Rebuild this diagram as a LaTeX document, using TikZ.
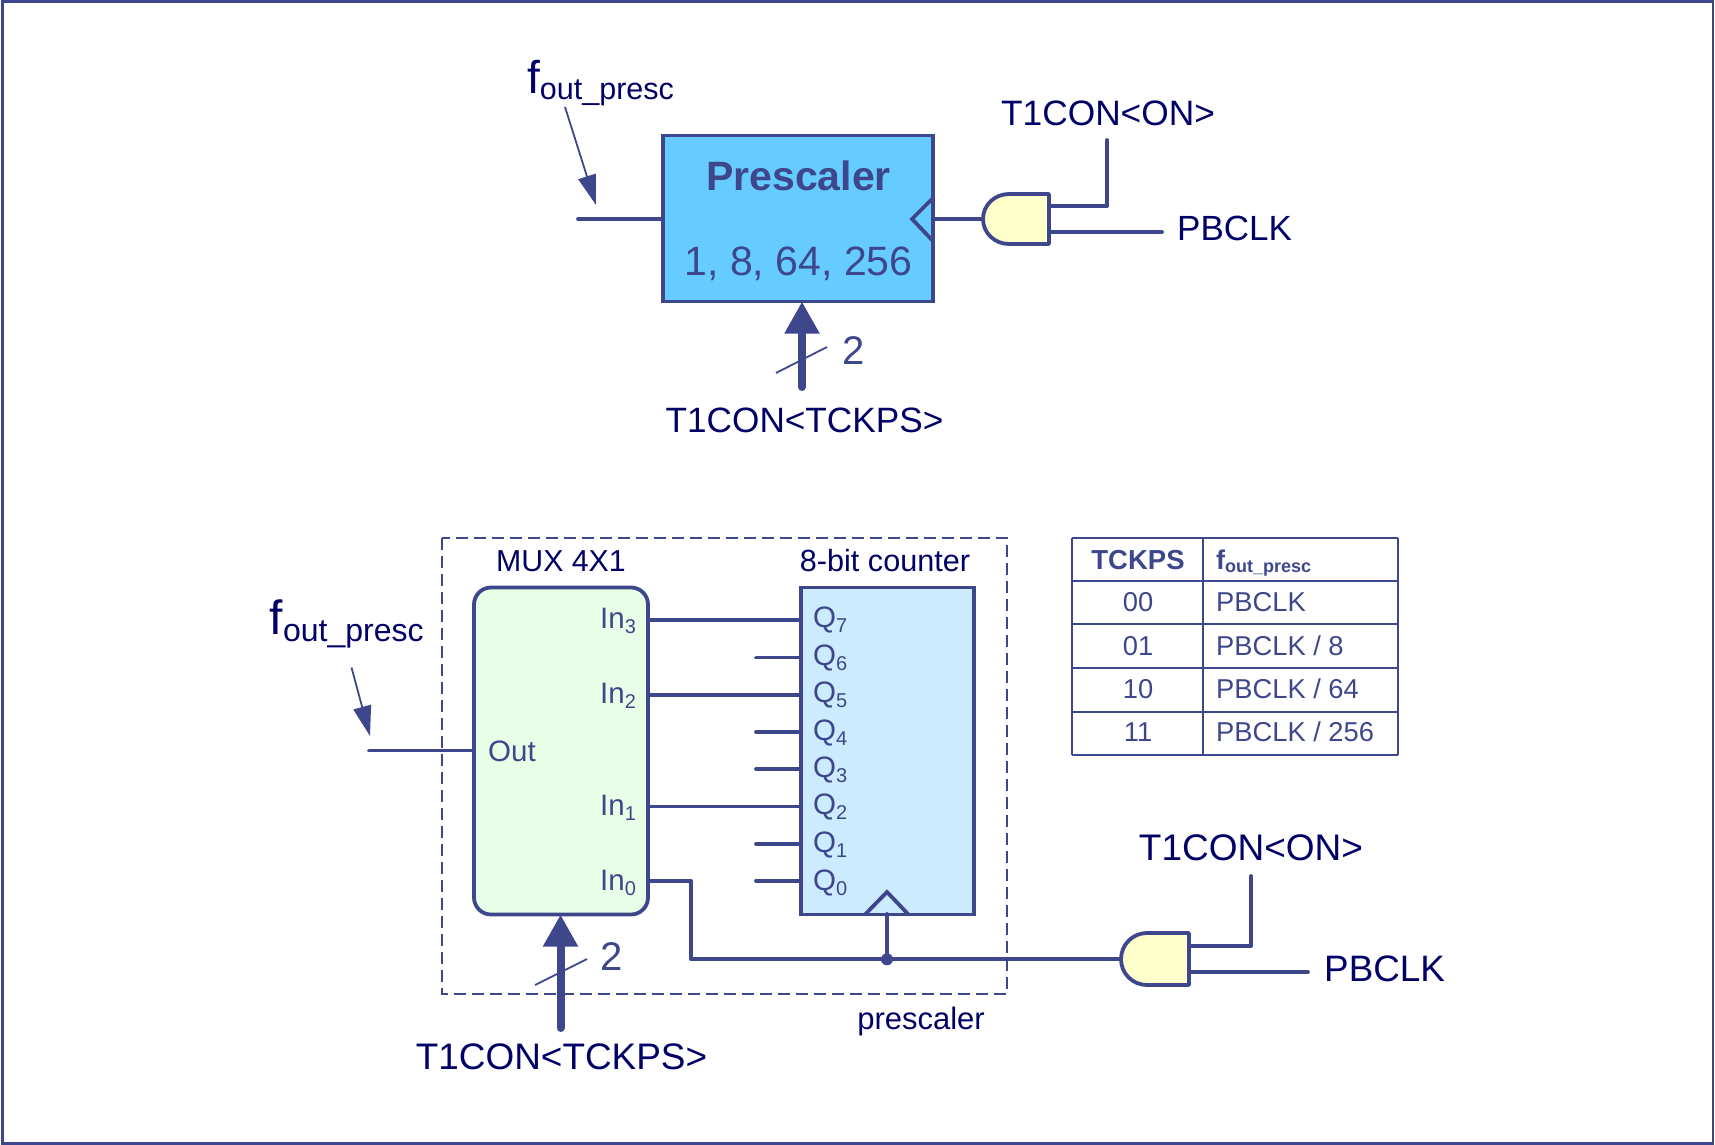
\documentclass[tikz,border=0pt]{standalone}
\usepackage{fontspec}
\setmainfont{Liberation Sans}
\usetikzlibrary{arrows.meta}
\definecolor{wirecol}{RGB}{62,71,140}
\definecolor{navycol}{RGB}{0,0,102}
\definecolor{prescfill}{RGB}{102,204,255}
\definecolor{cntfill}{RGB}{204,235,255}
\definecolor{muxfill}{RGB}{230,255,230}
\definecolor{gatefill}{RGB}{255,255,204}
\newcommand{\fsz}[1]{\fontsize{#1}{#1}\selectfont}
% f with its lowered subscript: big size, small size, drop
\newcommand{\fout}[3]{\fsz{#1}f\raisebox{-#3pt}{\fsz{#2}out\_presc}}
\tikzset{
    wire/.style={wirecol,line width=3.8pt,line cap=round,line join=round},
    thinline/.style={wirecol,line width=1.8pt},
    busarrow/.style={wirecol,line width=8pt,line cap=round,-{Triangle[length=32pt,width=33pt]}},
    ptrarrow/.style={thinline,-{Triangle[length=30pt,width=18pt]}},
    block/.style={draw=wirecol,line width=3.8pt,inner sep=0pt,outer sep=0pt},
    navylbl/.style={navycol,inner sep=0pt,anchor=base},
    bluelbl/.style={wirecol,inner sep=0pt,anchor=base},
}
\begin{document}
\begin{tikzpicture}[x=1pt,y=-1pt]
    \useasboundingbox (0,0) rectangle (1715,1145);
    \draw[wirecol,line width=2.4pt] (2.5,1.5) rectangle (1713,1143.5);

    % top: prescaler block
    \node[block,fill=prescfill,minimum width=270pt,minimum height=166pt] (presc) at (798,218.5) {};
    \node[bluelbl,font=\fsz{41}\bfseries] (prescname) at (798.5,190) {Prescaler};
    \node[bluelbl,font=\fsz{41}] (prescvals) at (798.5,275) {1, 8, 64, 256};
    \coordinate (prescin) at (578,219);
    \draw[wire] (prescin) -- (prescin -| presc.west);
    \coordinate (clkA) at (933,219);
    \draw[wire,line join=miter] (933,198) -- (912,219) -- (933,241);

    % top: and gate
    \coordinate (gateAout) at (983,219);
    \coordinate (gateAin1) at (1049,206);
    \coordinate (gateAin2) at (1049,232);
    \draw[wire,fill=gatefill] (1049,194) -- (1009,194) .. controls (994.6,194) and (983,205.1) .. (gateAout)
        .. controls (983,232.9) and (994.6,244) .. (1009,244) -- (1049,244) -- cycle;
    \draw[wire] (gateAout) -- (clkA);
    \node[navylbl,font=\fsz{35.3}] (onA) at (1108,125) {T1CON<ON>};
    \coordinate (onAend) at (1107,140);
    \draw[wire] (gateAin1) -| (onAend);
    \node[navylbl,anchor=base west,font=\fsz{35}] (pbclkA) at (1177,240) {PBCLK};
    \coordinate (pbclkAend) at (1162,232);
    \draw[wire] (gateAin2) -- (pbclkAend);

    \node[navylbl,anchor=base west] (foutA) at (527,94) {\fout{46}{30.5}{6}};
    \coordinate (ptrAfrom) at (565,107);
    \coordinate (ptrAto) at (596,205);
    \draw[ptrarrow] (ptrAfrom) -- (ptrAto);

    \coordinate (busAfrom) at (802,387);
    \draw[busarrow] (busAfrom) -- (busAfrom |- presc.south);
    \coordinate (slashAa) at (776,373);
    \coordinate (slashAb) at (827,347);
    \draw[thinline] (slashAa) -- (slashAb);
    \node[bluelbl,font=\fsz{40}] (widthA) at (854,364) {2};
    \node[navylbl,font=\fsz{35.2}] (tckpsA) at (804.5,432) {T1CON<TCKPS>};

    % bottom: dashed prescaler outline
    \draw[wirecol,line width=1.9pt,dash pattern=on 12pt off 6pt] (442,538) rectangle (1007,994);
    \node[navylbl,font=\fsz{31}] (prescnote) at (921,1029) {prescaler};

    % bottom: mux and counter
    \node[block,fill=muxfill,rounded corners=17pt,minimum width=174pt,minimum height=327pt] (mux) at (561,751) {};
    \node[block,fill=cntfill,minimum width=173pt,minimum height=327pt] (cnt) at (887.5,751) {};
    \node[navylbl,font=\fsz{30.3}] (muxname) at (561,571) {MUX 4X1};
    \node[navylbl,font=\fsz{30.6}] (cntname) at (885,571) {8-bit counter};

    % counter outputs
    \foreach \n/\yy/\yb in {7/620/627.5,6/657.5/665.5,5/694.6/702.5,4/732/740,3/769/777.5,2/806.4/814.5,1/843.6/852.5,0/880.7/890.5} {
        \coordinate (q\n) at (801,\yy);
        \node[bluelbl,anchor=base west,font=\fsz{29.5}] (qlbl\n) at (813,\yb) {Q\raisebox{-5pt}{\fsz{20}\n}};
    }
    % unconnected outputs
    \foreach \n in {6,4,3,1,0} {
        \coordinate (stub\n) at (756,0);
        \draw[wire] (stub\n |- q\n) -- (q\n);
    }
    % mux inputs
    \foreach \n/\yb in {3/628,2/703,1/815,0/890.5} {
        \node[bluelbl,anchor=base west,font=\fsz{29.5}] (inlbl\n) at (600,\yb) {In\raisebox{-5pt}{\fsz{20}\n}};
    }
    \foreach \n/\q in {3/7,2/5,1/2} {
        \draw[wire] (mux.east |- q\q) -- (q\q);
    }
    \node[bluelbl,anchor=base west,font=\fsz{29.5}] (outlbl) at (488,761) {Out};
    \coordinate (muxin) at (369,750.5);
    \draw[wire] (muxin) -- (muxin -| mux.west);

    % clock line
    \coordinate (clkB) at (887,914);
    \coordinate (clkjoin) at (887,959.3);
    \coordinate (gateBout) at (1121,959.3);
    \draw[wire,line join=miter] (865.5,914) -- (887,892) -- (908,914);
    \draw[wire] (mux.east |- q0) -- (691,880.7) -- (691,959.3) -- (gateBout);
    \draw[wire] (clkB) -- (clkjoin);
    \fill[wirecol] (clkjoin) circle (6pt);

    % bottom: and gate
    \coordinate (gateBin1) at (1189,946);
    \coordinate (gateBin2) at (1189,972);
    \draw[wire,fill=gatefill] (1189,933) -- (1147,933) .. controls (1132.6,933) and (1121,944.6) .. (gateBout)
        .. controls (1121,973.4) and (1132.6,985) .. (1147,985) -- (1189,985) -- cycle;
    \node[navylbl,font=\fsz{37}] (onB) at (1251,860) {T1CON<ON>};
    \coordinate (onBend) at (1251,876);
    \draw[wire] (gateBin1) -| (onBend);
    \node[navylbl,anchor=base west,font=\fsz{36.8}] (pbclkB) at (1324,981.5) {PBCLK};
    \coordinate (pbclkBend) at (1308,972);
    \draw[wire] (gateBin2) -- (pbclkBend);

    \node[navylbl,anchor=base west] (foutB) at (269.5,634.5) {\fout{48}{32}{7}};
    \coordinate (ptrBfrom) at (351.5,667.5);
    \coordinate (ptrBto) at (370,736);
    \draw[ptrarrow] (ptrBfrom) -- (ptrBto);

    \coordinate (busBfrom) at (560.5,1028);
    \draw[busarrow] (busBfrom) -- (busBfrom |- mux.south);
    \coordinate (slashBa) at (535,985);
    \coordinate (slashBb) at (587,959);
    \draw[thinline] (slashBa) -- (slashBb);
    \node[bluelbl,font=\fsz{40}] (widthB) at (611.6,970) {2};
    \node[navylbl,font=\fsz{36.9}] (tckpsB) at (561.5,1069) {T1CON<TCKPS>};

    % table
    \foreach \yy in {537.5,581,624,667.7,711.7,755} {
        \draw[wirecol,line width=2pt] (1072,\yy) -- (1398,\yy);
    }
    \foreach \xx in {1072,1202.5,1398} {
        \draw[wirecol,line width=2pt] (\xx,537.5) -- (\xx,755);
    }
    \node[bluelbl,font=\fsz{27.5}\bfseries] (tblhead) at (1138,569) {TCKPS};
    \node[bluelbl,anchor=base west,font=\bfseries] (tblfout) at (1216,569) {\fout{27}{18}{3}};
    \foreach \code/\rate/\yb in {00/{PBCLK}/611.7,01/{PBCLK / 8}/655,10/{PBCLK / 64}/698,11/{PBCLK / 256}/741.7} {
        \node[bluelbl,font=\fsz{27.3}] (code\code) at (1138,\yb) {\code};
        \node[bluelbl,anchor=base west,font=\fsz{27.3}] (rate\code) at (1216,\yb) {\rate};
    }
\end{tikzpicture}
\end{document}
